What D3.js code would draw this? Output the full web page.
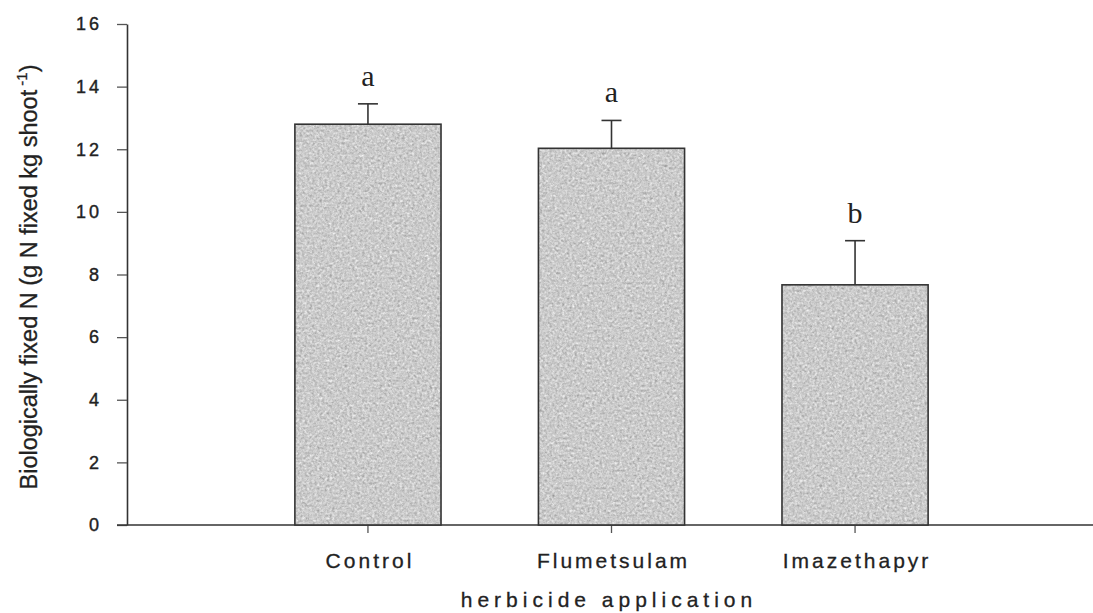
<!DOCTYPE html>
<html>
<head>
<meta charset="utf-8">
<script src="https://cdn.jsdelivr.net/npm/d3@7"></script>
<style>
  body { margin: 0; background: #fff; }
  svg { display: block; }
</style>
</head>
<body>
<div id="chart"></div>
<script>
// values
var treatments = ["Control", "Flumetsulam", "Imazethapyr"];
var fixedN = [12.8, 12.03, 7.67];
var stdErr = [0.65, 0.89, 1.41];
var letters = ["a", "a", "b"];
var yTicks = [0, 2, 4, 6, 8, 10, 12, 14, 16];

var data = treatments.map(function (t, i) {
    return {name: t, value: fixedN[i], se: stdErr[i], letter: letters[i]};
});

var svg = d3.select("#chart")
            .append("svg")
            .attr("width", 1093)
            .attr("height", 613);

// grain for the bar fill
var defs = svg.append("defs");
var grain = defs.append("filter")
                .attr("id", "grain")
                .attr("color-interpolation-filters", "sRGB")
                .attr("x", 0).attr("y", 0)
                .attr("width", 1).attr("height", 1);
grain.append("feTurbulence")
     .attr("type", "fractalNoise")
     .attr("baseFrequency", 0.4)
     .attr("numOctaves", 3)
     .attr("seed", 4)
     .attr("result", "noise");
// grey noise, fully opaque
grain.append("feColorMatrix")
     .attr("in", "noise")
     .attr("type", "matrix")
     .attr("values", "0.33 0.33 0.33 0 0  0.33 0.33 0.33 0 0  0.33 0.33 0.33 0 0  0 0 0 0 1")
     .attr("result", "grey");
grain.append("feComposite")
     .attr("in", "SourceGraphic")
     .attr("in2", "grey")
     .attr("operator", "arithmetic")
     .attr("k1", 0).attr("k2", 1).attr("k3", 0.6).attr("k4", -0.3)
     .attr("result", "mix");
grain.append("feComposite")
     .attr("in", "mix")
     .attr("in2", "SourceAlpha")
     .attr("operator", "in");

var x = d3.scaleBand()
          .domain(treatments)
          .range([130, 1093])
          .paddingInner(0.4)
          .paddingOuter(0.677);

var y = d3.scaleLinear()
          .domain([0, 16])
          .range([525, 24]);

var sans = "Arial, 'Liberation Sans', sans-serif";

// y axis
var yAxis = svg.append("g")
   .attr("class", "y-axis")
   .attr("transform", "translate(127,0)")
   .call(d3.axisLeft(y).tickValues(yTicks).tickSize(10).tickPadding(15).tickSizeOuter(0));

yAxis.select(".domain").attr("stroke", "#333").attr("stroke-width", 1.6);
yAxis.selectAll(".tick line").attr("stroke", "#555").attr("stroke-width", 1.3);
yAxis.selectAll(".tick text")
     .style("font-family", sans)
     .style("font-size", "18px")
     .style("letter-spacing", "3px")
     .attr("fill", "#222")
     .attr("stroke", "#222")
     .attr("stroke-width", 0.4);

// x axis, full width
var xAxis = svg.append("g")
   .attr("class", "x-axis")
   .attr("transform", "translate(0,525)")
   .call(d3.axisBottom(x).tickSize(8).tickPadding(20).tickSizeOuter(0));

xAxis.select(".domain")
     .attr("d", "M117,0H1093")
     .attr("stroke", "#333")
     .attr("stroke-width", 1.6);
xAxis.selectAll(".tick line").attr("stroke", "#555").attr("stroke-width", 1.3);
xAxis.selectAll(".tick text")
     .attr("dx", 2)
     .style("font-family", sans)
     .style("font-size", "21px")
     .style("letter-spacing", "3px")
     .attr("fill", "#222")
     .attr("stroke", "#222")
     .attr("stroke-width", 0.3);

// bars
var bars = svg.append("g")
   .attr("class", "bars")
   .selectAll("g")
   .data(data)
   .enter()
   .append("g");

bars.append("rect")
    .attr("x", function (d) {return x(d.name);})
    .attr("y", function (d) {return y(d.value);})
    .attr("width", x.bandwidth())
    .attr("height", function (d) {return y(0) - y(d.value);})
    .attr("fill", "#cbcbcb")
    .attr("filter", "url(#grain)");

bars.append("rect")
    .attr("x", function (d) {return x(d.name);})
    .attr("y", function (d) {return y(d.value);})
    .attr("width", x.bandwidth())
    .attr("height", function (d) {return y(0) - y(d.value);})
    .attr("fill", "none")
    .attr("stroke", "#333")
    .attr("stroke-width", 1.6);

// error bars (upper only)
var cx = function (d) {return x(d.name) + x.bandwidth() / 2;};

bars.append("line")
    .attr("x1", cx).attr("x2", cx)
    .attr("y1", function (d) {return y(d.value);})
    .attr("y2", function (d) {return y(d.value + d.se);})
    .attr("stroke", "#333")
    .attr("stroke-width", 1.6);

bars.append("line")
    .attr("x1", function (d) {return cx(d) - 10;})
    .attr("x2", function (d) {return cx(d) + 10;})
    .attr("y1", function (d) {return y(d.value + d.se);})
    .attr("y2", function (d) {return y(d.value + d.se);})
    .attr("stroke", "#333")
    .attr("stroke-width", 1.6);

// significance letters
bars.append("text")
    .attr("x", cx)
    .attr("y", function (d) {return y(d.value + d.se) - 18;})
    .style("text-anchor", "middle")
    .style("font-family", "'Liberation Serif', 'Times New Roman', serif")
    .style("font-size", "30px")
    .attr("fill", "#222")
    .text(function (d) {return d.letter;});

// axis titles
svg.append("text")
   .attr("x", 609)
   .attr("y", 607)
   .style("text-anchor", "middle")
   .style("font-family", sans)
   .style("font-size", "21px")
   .style("letter-spacing", "5px")
   .attr("fill", "#222")
   .attr("stroke", "#222")
   .attr("stroke-width", 0.3)
   .text("herbicide application");

var yTitle = svg.append("text")
   .attr("transform", "translate(37,277) rotate(-90)")
   .style("text-anchor", "middle")
   .style("font-family", sans)
   .style("font-size", "23.5px")
   .attr("fill", "#222")
   .attr("stroke", "#222")
   .attr("stroke-width", 0.3);

yTitle.append("tspan").text("Biologically fixed N (g N fixed kg shoot");
yTitle.append("tspan")
      .attr("dy", -10)
      .style("font-size", "15px")
      .text(" -1");
yTitle.append("tspan")
      .attr("dy", 10)
      .text(")");
</script>
</body>
</html>
